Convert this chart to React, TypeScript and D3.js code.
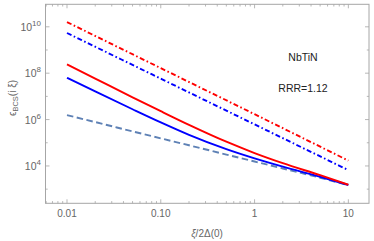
import React from "react";
import * as d3 from "d3";

// x = ξ/2Δ(0)
const xDecades = [0.01, 0.1, 1, 10];
const xFine = [0.01, 0.02, 0.05, 0.1, 0.2, 0.5, 1, 2, 5, 10];

// dot-dashed (straight in log-log)
const redDotDashed = [1.6e10, 1.65e8, 1.7e6, 1.7e4];
const blueDotDashed = [5.4e9, 5.8e7, 6.2e5, 6.6e3];

// solid + dashed curves
const redSolid = [2.4e8, 5.87e7, 9.14e6, 2.29e6, 5.92e5, 1.11e5, 3.6e4, 1.32e4, 4.0e3, 1.55e3];
const blueSolid = [6.3e7, 1.63e7, 2.79e6, 7.57e5, 2.2e5, 5.3e4, 2.12e4, 9.3e3, 3.42e3, 1.51e3];
const normalDashed = [1.55e6, 7.8e5, 3.1e5, 1.55e5, 7.8e4, 3.1e4, 1.55e4, 7.8e3, 3.1e3, 1.48e3];

const xTicks = [0.01, 0.1, 1, 10];
const xTickLabels = ["0.01", "0.10", "1", "10"];
const yMajor = [1e4, 1e6, 1e8, 1e10];
const yMajorExp = ["4", "6", "8", "10"];
const yMinor = [1e3, 1e5, 1e7, 1e9];

const W = 374;
const H = 241;
const frame = { left: 45.5, right: 369, top: 4.3, bottom: 203.3 };
const FONT = "'Liberation Sans', Arial, sans-serif";
const frameColor = "#a6a6a6";
const labelColor = "#666";

export default function App() {
  const x = d3.scaleLog().domain([0.0059, 16.6]).range([frame.left, frame.right]);
  const y = d3.scaleLog().domain([Math.pow(10, 2.39), Math.pow(10, 10.97)]).range([frame.bottom, frame.top]);

  const line = (xv: number[], yv: number[]) =>
    d3.line<number>()
      .x((_, i) => x(xv[i]))
      .y(d => y(d))
      .curve(d3.curveMonotoneX)(yv) || "";

  const series = [
    { xv: xFine, yv: normalDashed, color: "#5e81b5", dash: "6.5,3.5" },
    { xv: xFine, yv: blueSolid, color: "#0000ff", dash: undefined },
    { xv: xFine, yv: redSolid, color: "#ff0000", dash: undefined },
    { xv: xDecades, yv: blueDotDashed, color: "#0000ff", dash: "5,2.5,1.6,2.5" },
    { xv: xDecades, yv: redDotDashed, color: "#ff0000", dash: "5,2.5,1.6,2.5" },
  ];

  // minor x ticks (2..9 per decade)
  const xMinor: number[] = [];
  for (let p = -3; p <= 1; p++) {
    for (let k = 2; k <= 9; k++) {
      const v = k * Math.pow(10, p);
      if (v > 0.0059 && v < 16.6) xMinor.push(v);
    }
  }

  return (
    <svg width={W} height={H} style={{ position: "absolute", left: 0, top: 0, background: "#fff" }}>
      <defs>
        <clipPath id="plot">
          <rect x={frame.left} y={frame.top} width={frame.right - frame.left} height={frame.bottom - frame.top} />
        </clipPath>
      </defs>

      {/* curves */}
      <g clipPath="url(#plot)" fill="none">
        {series.map((s, i) => (
          <path key={i} d={line(s.xv, s.yv)} stroke={s.color} strokeWidth={1.9} strokeDasharray={s.dash} />
        ))}
      </g>

      {/* frame */}
      <rect x={frame.left} y={frame.top} width={frame.right - frame.left} height={frame.bottom - frame.top}
        fill="none" stroke={frameColor} strokeWidth={1} />

      {/* ticks */}
      <g stroke={frameColor} strokeWidth={0.8}>
        {xTicks.map(t => (
          <g key={"xt" + t}>
            <line x1={x(t)} x2={x(t)} y1={frame.bottom} y2={frame.bottom - 4} />
            <line x1={x(t)} x2={x(t)} y1={frame.top} y2={frame.top + 4} />
          </g>
        ))}
        {xMinor.map(t => (
          <g key={"xm" + t}>
            <line x1={x(t)} x2={x(t)} y1={frame.bottom} y2={frame.bottom - 2.2} />
            <line x1={x(t)} x2={x(t)} y1={frame.top} y2={frame.top + 2.2} />
          </g>
        ))}
        {yMajor.map(t => (
          <g key={"yt" + t}>
            <line x1={frame.left} x2={frame.left + 4} y1={y(t)} y2={y(t)} />
            <line x1={frame.right} x2={frame.right - 4} y1={y(t)} y2={y(t)} />
          </g>
        ))}
        {yMinor.map(t => (
          <g key={"ym" + t}>
            <line x1={frame.left} x2={frame.left + 2.2} y1={y(t)} y2={y(t)} />
            <line x1={frame.right} x2={frame.right - 2.2} y1={y(t)} y2={y(t)} />
          </g>
        ))}
      </g>

      {/* tick labels */}
      <g fontFamily={FONT} fill={labelColor} fontSize={10}>
        {xTicks.map((t, i) => (
          <text key={"xl" + t} x={x(t)} y={frame.bottom + 14} textAnchor="middle">{xTickLabels[i]}</text>
        ))}
        {yMajor.map((t, i) => (
          <text key={"yl" + t} x={41} y={y(t) + 4} textAnchor="end" fontSize={10.5}>
            10<tspan fontSize={8} dy={-5}>{yMajorExp[i]}</tspan>
          </text>
        ))}
      </g>

      {/* axis titles */}
      <text x={207} y={237} textAnchor="middle" fontFamily={FONT} fontSize={10} fill={labelColor}>
        <tspan fontStyle="italic">ξ</tspan>/2Δ(0)
      </text>
      <text transform={`translate(16,${98}) rotate(-90)`} textAnchor="middle" fontFamily={FONT} fontSize={10} fill={labelColor}>
        ϵ<tspan fontSize={7.5} dy={2}>BCS</tspan><tspan dy={-2}>(i ξ)</tspan>
      </text>

      {/* annotations */}
      <g fontFamily={FONT} fontSize={10.5} fill="#222" textAnchor="middle">
        <text x={303} y={61}>NbTiN</text>
        <text x={303} y={92}>RRR=1.12</text>
      </g>
    </svg>
  );
}
